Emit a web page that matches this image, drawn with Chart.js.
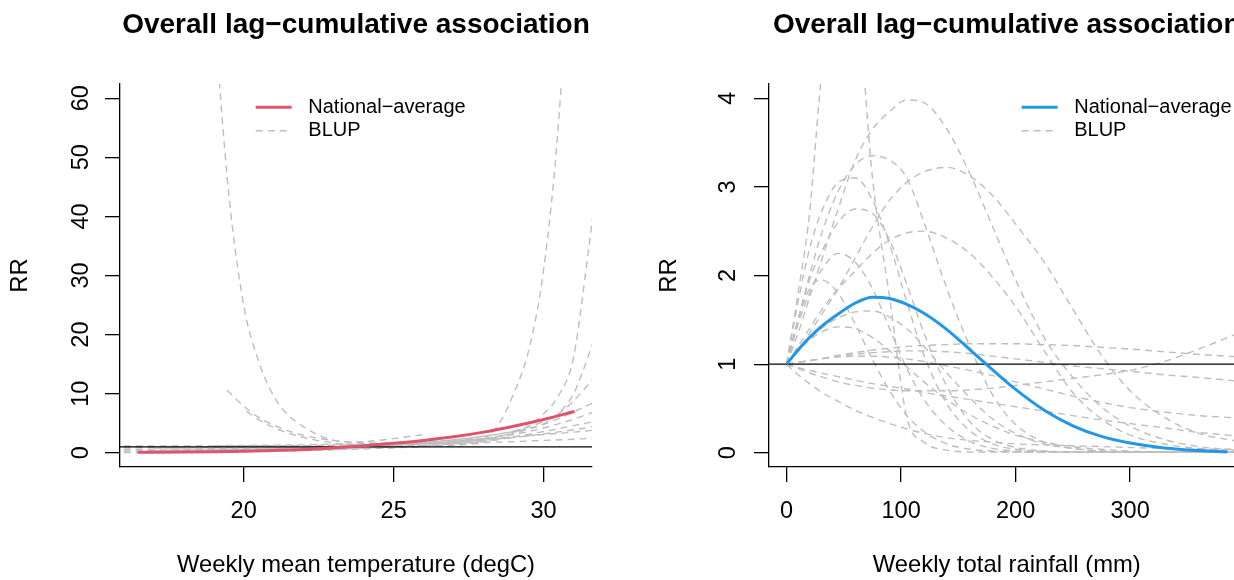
<!DOCTYPE html>
<html>
<head>
<meta charset="utf-8">
<script src="https://cdn.jsdelivr.net/npm/chart.js@4.4.1/dist/chart.umd.min.js"></script>
<style>
    html, body { margin: 0; padding: 0; background: #fff; overflow: hidden; }
    #wrap { position: relative; width: 1234px; height: 580px; overflow: hidden; }
    #wrap canvas { position: absolute; top: 0; }
    #temp-chart { left: 0; }
    #rain-chart { left: 649px; }
</style>
</head>
<body>
<div id="wrap">
    <canvas id="temp-chart" width="649" height="580"></canvas>
    <canvas id="rain-chart" width="649" height="580"></canvas>
</div>
<script>
// ---- data ----
const TITLE = 'Overall lag\u2212cumulative association';
const LEGEND_LABELS = ['National\u2212average', 'BLUP'];
const REF_RR = 1;

// left panel: temperature
const tempTicksX = [20, 25, 30];
const tempTicksY = [0, 10, 20, 30, 40, 50, 60];
const tempX = [16.46, 17, 18, 19, 20, 21, 22, 23, 24, 25, 26, 27, 28, 29, 30, 31.03];
const tempNational = [0.08, 0.1, 0.14, 0.2, 0.28, 0.4, 0.56, 0.85, 1.18, 1.6, 2.1, 2.7, 3.5, 4.5, 5.65, 7.0];

// BLUP curves as [temperature, RR] pairs
const tempBlupA = [[19, 75], [19.5, 44], [20, 25], [20.5, 15.5], [21, 9.6], [21.5, 6.3], [22, 4.4], [22.5, 3.0], [23, 2.1], [23.5, 1.85], [24, 1.9], [24.5, 2.1], [25, 2.4], [25.5, 2.75], [26, 3.1]];
const tempBlupB = [[19.45, 10.6], [20, 7.9], [20.5, 6.0], [21, 4.7], [21.5, 3.7], [22, 2.95], [22.5, 2.45], [23, 2.1], [23.5, 1.85], [24, 1.7], [25, 1.6], [26, 1.65], [27, 1.9], [28, 2.3]];
const tempBlupC = [[20.1, 7.0], [20.5, 5.6], [21, 4.3], [21.5, 3.3], [22, 2.6], [22.5, 2.05], [23, 1.65], [23.5, 1.4], [24, 1.25], [25, 1.15], [26, 1.25], [27, 1.5], [28, 1.9], [29, 2.6]];
const tempBlupD = [[22, 0.45], [23, 0.55], [24, 0.7], [25, 0.85], [26, 1.05], [27, 1.3], [27.5, 1.55], [28, 2.3], [28.5, 4.8], [29, 10], [29.5, 17.3], [30, 31], [30.5, 56], [31, 98]];
const tempBlupE = [[21, 0.35], [22, 0.45], [23, 0.6], [24, 0.8], [25, 1.0], [26, 1.25], [27, 1.6], [27.5, 1.85], [28, 2.2], [28.5, 2.75], [29, 3.5], [29.5, 4.5], [30, 6.6], [30.5, 9.7], [31, 16.2], [31.5, 34.5], [32, 55]];
const tempBlupF = [[18, 0.5], [19, 0.55], [20, 0.6], [21, 0.7], [22, 0.8], [23, 0.95], [24, 1.1], [25, 1.3], [26, 1.55], [27, 1.9], [28, 2.4], [28.5, 2.8], [29, 3.3], [29.5, 4.0], [30, 4.9], [30.5, 6.7], [31, 10.0], [31.5, 16.5], [32, 24]];
const tempBlupG = [[17, 0.4], [18, 0.45], [19, 0.5], [20, 0.6], [21, 0.7], [22, 0.85], [23, 1.0], [24, 1.2], [25, 1.45], [26, 1.75], [27, 2.2], [28, 2.8], [29, 3.7], [29.5, 4.4], [30, 5.3], [30.5, 6.6], [31, 8.8], [31.5, 11.6], [32, 14.5]];
const tempBlupH = [[16, 0.3], [17, 0.35], [18, 0.4], [19, 0.45], [20, 0.55], [21, 0.65], [22, 0.8], [23, 0.95], [24, 1.15], [25, 1.4], [26, 1.75], [27, 2.2], [28, 2.8], [29, 3.6], [30, 4.8], [30.5, 5.8], [31, 6.9], [31.5, 8.1], [32, 9.2]];
const tempBlupI = [[16, 0.6], [17, 0.62], [18, 0.65], [19, 0.7], [20, 0.75], [21, 0.82], [22, 0.9], [23, 1.0], [24, 1.15], [25, 1.35], [26, 1.6], [27, 1.95], [28, 2.4], [29, 3.1], [30, 4.2], [31, 5.7], [31.5, 6.6], [32, 7.4]];
const tempBlupJ = [[17, 0.8], [18, 0.82], [19, 0.85], [20, 0.88], [21, 0.92], [22, 0.97], [23, 1.05], [24, 1.15], [25, 1.3], [26, 1.5], [27, 1.75], [28, 2.05], [29, 2.7], [30, 3.6], [31, 4.6], [31.5, 5.1], [32, 5.6]];
const tempBlupK = [[16, 0.9], [17, 0.95], [18, 1.0], [19, 1.05], [20, 1.1], [21, 1.15], [22, 1.2], [23, 1.27], [24, 1.35], [25, 1.45], [26, 1.6], [27, 1.85], [28, 2.15], [29, 2.6], [30, 3.2], [31, 3.9], [32, 4.7]];
const tempBlupL = [[19, 1.2], [20, 1.25], [21, 1.3], [22, 1.35], [23, 1.45], [24, 1.55], [25, 1.7], [26, 1.9], [27, 2.1], [28, 2.4], [29, 2.7], [30, 3.1], [31, 3.5], [32, 4.0]];
const tempBlupM = [[16, 1.15], [17, 1.15], [18, 1.15], [19, 1.15], [20, 1.15], [21, 1.15], [22, 1.2], [23, 1.25], [24, 1.3], [25, 1.4], [26, 1.5], [27, 1.6], [28, 1.75], [29, 1.9], [30, 2.1], [31, 2.3], [32, 2.6]];
const tempBlupN = [[16, 0.05], [17, 0.07], [18, 0.1], [19, 0.15], [20, 0.2], [21, 0.3], [22, 0.4], [23, 0.55], [24, 0.7], [25, 0.9], [26, 1.1], [27, 1.35], [28, 1.6]];

// right panel: rainfall
const rainTicksX = [0, 100, 200, 300];
const rainTicksY = [0, 1, 2, 3, 4];
const rainX = [0, 10, 20, 30, 45, 60, 75, 90, 105, 120, 140, 160, 180, 200, 225, 250, 275, 300, 330, 360, 385];
const rainNational = [1.0, 1.16, 1.3, 1.42, 1.565, 1.69, 1.755, 1.74, 1.675, 1.575, 1.39, 1.165, 0.935, 0.715, 0.48, 0.305, 0.185, 0.11, 0.055, 0.025, 0.01];

// BLUP curves share one rainfall grid
const rainBlupX = [0, 10, 20, 30, 45, 60, 75, 90, 105, 120, 140, 160, 180, 200, 225, 250, 275, 300, 330, 360, 385, 400];
const rainBlup1 = [1, 1.8, 2.7, 4.2, 5.6, 5.3, 3.1, 1.75, 0.4, 0.12, 0.03, 0.01, 0.01, 0.01, 0.01, 0.01, 0.01, 0.01, 0.01, 0.01, 0.01, 0.01];
const rainBlup2 = [1, 1.35, 1.75, 2.15, 2.75, 3.3, 3.65, 3.85, 3.98, 3.95, 3.65, 3.15, 2.55, 1.95, 1.3, 0.85, 0.52, 0.3, 0.15, 0.07, 0.04, 0.03];
const rainBlup3 = [1, 1.5, 2.0, 2.45, 2.95, 3.25, 3.35, 3.3, 3.1, 2.6, 1.85, 1.2, 0.65, 0.32, 0.12, 0.05, 0.02, 0.01, 0.01, 0.01, 0.01, 0.01];
const rainBlup4 = [1, 1.7, 2.3, 2.7, 3.05, 3.1, 2.85, 2.35, 1.7, 1.1, 0.55, 0.25, 0.1, 0.04, 0.02, 0.01, 0.01, 0.01, 0.01, 0.01, 0.01, 0.01];
const rainBlup5 = [1, 1.5, 1.95, 2.25, 2.6, 2.75, 2.7, 2.4, 1.9, 1.35, 0.75, 0.35, 0.15, 0.06, 0.02, 0.01, 0.01, 0.01, 0.01, 0.01, 0.01, 0.01];
const rainBlup6 = [1, 1.15, 1.35, 1.55, 1.85, 2.2, 2.55, 2.85, 3.05, 3.17, 3.22, 3.12, 2.9, 2.58, 2.15, 1.62, 1.1, 0.7, 0.4, 0.22, 0.15, 0.12];
const rainBlup7 = [1, 1.2, 1.4, 1.6, 1.85, 2.05, 2.25, 2.4, 2.48, 2.5, 2.42, 2.25, 1.98, 1.65, 1.15, 0.68, 0.38, 0.2, 0.1, 0.05, 0.03, 0.02];
const rainBlup8 = [1, 1.45, 1.8, 2.05, 2.25, 2.15, 1.85, 1.4, 0.95, 0.6, 0.3, 0.13, 0.05, 0.02, 0.01, 0.01, 0.01, 0.01, 0.01, 0.01, 0.01, 0.01];
const rainBlup9 = [1, 1.15, 1.28, 1.4, 1.52, 1.59, 1.6, 1.53, 1.4, 1.2, 0.9, 0.62, 0.38, 0.22, 0.1, 0.05, 0.02, 0.01, 0.01, 0.01, 0.01, 0.01];
const rainBlup10 = [1, 1.02, 1.04, 1.06, 1.1, 1.13, 1.16, 1.18, 1.2, 1.21, 1.22, 1.23, 1.23, 1.23, 1.22, 1.21, 1.19, 1.17, 1.14, 1.11, 1.09, 1.08];
const rainBlup11 = [1, 1.02, 1.04, 1.06, 1.09, 1.11, 1.13, 1.14, 1.15, 1.15, 1.14, 1.12, 1.09, 1.06, 1.02, 0.98, 0.95, 0.92, 0.88, 0.85, 0.82, 0.8];
const rainBlup12 = [1, 0.95, 0.9, 0.86, 0.8, 0.76, 0.73, 0.71, 0.7, 0.7, 0.7, 0.71, 0.73, 0.76, 0.8, 0.84, 0.88, 0.93, 1.03, 1.17, 1.3, 1.38];
const rainBlup13 = [1, 0.88, 0.78, 0.69, 0.58, 0.48, 0.4, 0.33, 0.27, 0.22, 0.17, 0.14, 0.12, 0.1, 0.09, 0.08, 0.07, 0.06, 0.05, 0.04, 0.04, 0.04];
const rainBlup14 = [1, 0.96, 0.93, 0.9, 0.86, 0.82, 0.78, 0.75, 0.72, 0.68, 0.64, 0.6, 0.56, 0.52, 0.47, 0.42, 0.37, 0.33, 0.28, 0.23, 0.2, 0.18];
const rainBlup15 = [1, 1.02, 1.04, 1.06, 1.08, 1.09, 1.09, 1.08, 1.06, 1.03, 0.98, 0.93, 0.87, 0.8, 0.72, 0.64, 0.57, 0.51, 0.46, 0.42, 0.4, 0.39];
const rainBlup16 = [1, 1.15, 1.27, 1.36, 1.42, 1.4, 1.3, 1.15, 0.97, 0.8, 0.6, 0.43, 0.3, 0.2, 0.12, 0.07, 0.04, 0.02, 0.01, 0.01, 0.01, 0.01];
const rainBlup17 = [1, 1.5, 1.85, 1.95, 1.8, 1.45, 1.05, 0.7, 0.42, 0.24, 0.1, 0.04, 0.02, 0.01, 0.01, 0.01, 0.01, 0.01, 0.01, 0.01, 0.01, 0.01];

// ---- styling ----
const FONT = "'Liberation Sans', Arial, Helvetica, sans-serif";
const GREY = '#bebebe';

// black reference line at RR = 1, drawn after the BLUPs and before the national curve
const refLine = {
    id: 'refLine',
    beforeDatasetDraw(chart, args, opts) {
        if (args.index !== 0) return;
        const { ctx, chartArea } = chart;
        const y = chart.scales.y.getPixelForValue(opts.value);
        ctx.save();
        ctx.strokeStyle = '#000';
        ctx.lineWidth = 1.3;
        ctx.beginPath();
        ctx.moveTo(chartArea.left, y);
        ctx.lineTo(chartArea.right, y);
        ctx.stroke();
        ctx.restore();
    }
};

// R-style legend without a box
const rLegend = {
    id: 'rLegend',
    afterDraw(chart, args, opts) {
        const { ctx, chartArea } = chart;
        const items = chart.data.datasets.slice(0, 2);
        ctx.save();
        ctx.font = `${opts.fontSize}px ${FONT}`;
        ctx.textBaseline = 'middle';
        items.forEach((d, i) => {
            const x0 = chartArea.left + opts.left;
            const y = chartArea.top + opts.top + i * opts.rowGap;
            ctx.beginPath();
            ctx.setLineDash(d.borderDash || []);
            ctx.lineWidth = d.borderWidth;
            ctx.strokeStyle = d.borderColor;
            ctx.moveTo(x0, y);
            ctx.lineTo(x0 + opts.lineLen, y);
            ctx.stroke();
            ctx.setLineDash([]);
            ctx.fillStyle = '#000';
            ctx.fillText(LEGEND_LABELS[i], x0 + opts.textGap, y);
        });
        ctx.restore();
    }
};

function toPoints(xs, ys) {
    return xs.map((x, i) => ({ x, y: ys[i] }));
}

function generatePanel(canvasId, p) {
    const datasets = [{
        label: LEGEND_LABELS[0],
        data: toPoints(p.x, p.y),
        borderColor: p.color,
        borderWidth: 3
    }].concat(p.blups.map(pts => ({
        label: LEGEND_LABELS[1],
        data: pts.map(([x, y]) => ({ x, y })),
        borderColor: GREY,
        borderWidth: 1.4,
        borderDash: [7, 5]
    })));

    const tickFont = { family: FONT, size: 23.5 };
    const labFont = { family: FONT, size: 23.8 };

    return new Chart(canvasId, {
        type: 'line',
        data: { datasets },
        options: {
            responsive: false,
            animation: false,
            devicePixelRatio: 1,
            layout: { padding: { left: 0, right: p.padRight, top: 0, bottom: 0 } },
            elements: {
                point: { radius: 0 },
                line: { cubicInterpolationMode: 'monotone', fill: false }
            },
            plugins: {
                legend: { display: false },
                tooltip: { enabled: false },
                title: {
                    display: true,
                    text: TITLE,
                    fullSize: false,
                    color: '#000',
                    font: { family: FONT, size: 28, weight: 'bold' },
                    padding: { top: 8.2, bottom: 42.2 }
                },
                refLine: { value: REF_RR },
                rLegend: { left: p.legendLeft, top: 23.3, rowGap: 23.4, lineLen: 36, textGap: 52.6, fontSize: 20 }
            },
            scales: {
                x: {
                    type: 'linear',
                    min: p.xMin,
                    max: p.xMax,
                    afterBuildTicks: s => { s.ticks = p.xTicks.map(v => ({ value: v })); },
                    afterFit: s => { s.height = 113; },
                    grid: { drawOnChartArea: false, drawTicks: true, tickLength: 15, color: '#000', lineWidth: 1.3 },
                    border: { display: true, color: '#000', width: 1.3 },
                    ticks: { color: '#000', font: tickFont, padding: 15.1, maxRotation: 0, autoSkip: false, callback: v => String(v) },
                    title: { display: true, text: p.xTitle, color: '#000', font: labFont, padding: { top: 0, bottom: 0.7 } }
                },
                y: {
                    type: 'linear',
                    min: p.yMin,
                    max: p.yMax,
                    afterBuildTicks: s => { s.ticks = p.yTicks.map(v => ({ value: v })); },
                    afterFit: s => { s.width = 120; },
                    grid: { drawOnChartArea: false, drawTicks: true, tickLength: 15, color: '#000', lineWidth: 1.3 },
                    border: { display: true, color: '#000', width: 1.3 },
                    ticks: { color: '#000', font: tickFont, padding: p.yTickPad, minRotation: 90, maxRotation: 90, crossAlign: 'center', autoSkip: false, callback: v => String(v) },
                    title: { display: true, text: 'RR', color: '#000', font: labFont, padding: { top: 6.2 } }
                }
            }
        },
        plugins: [refLine, rLegend]
    });
}

generatePanel('temp-chart', {
    x: tempX, y: tempNational, color: '#DF536B',
    blups: [tempBlupA, tempBlupB, tempBlupC, tempBlupD, tempBlupE, tempBlupF, tempBlupG, tempBlupH,
            tempBlupI, tempBlupJ, tempBlupK, tempBlupL, tempBlupM, tempBlupN],
    xMin: 15.877, xMax: 31.613, yMin: -2.4, yMax: 62.4,
    xTicks: tempTicksX, yTicks: tempTicksY,
    xTitle: 'Weekly mean temperature (degC)',
    padRight: 57, yTickPad: 10.9, legendLeft: 135.7
});

generatePanel('rain-chart', {
    x: rainX, y: rainNational, color: '#2297E6',
    blups: [rainBlup1, rainBlup2, rainBlup3, rainBlup4, rainBlup5, rainBlup6, rainBlup7, rainBlup8, rainBlup9,
            rainBlup10, rainBlup11, rainBlup12, rainBlup13, rainBlup14, rainBlup15, rainBlup16, rainBlup17]
        .map(vals => rainBlupX.map((x, i) => [x, vals[i]])),
    xMin: -15.38, xMax: 399.9, yMin: -0.16, yMax: 4.16,
    xTicks: rainTicksX, yTicks: rainTicksY,
    xTitle: 'Weekly total rainfall (mm)',
    padRight: 53.5, yTickPad: 18.5, legendLeft: 252.6
});
</script>
</body>
</html>
